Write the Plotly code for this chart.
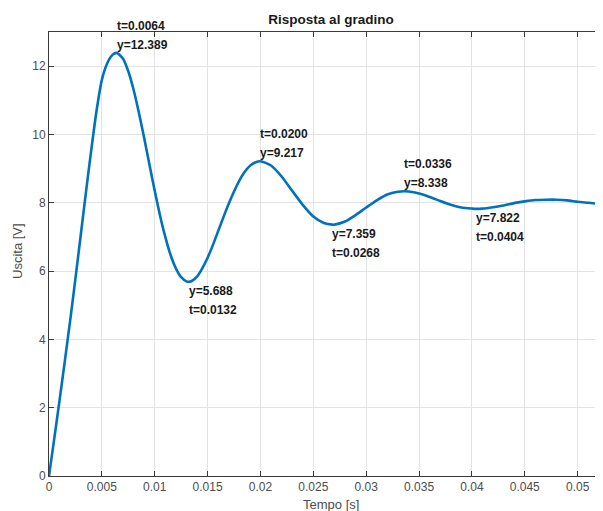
import plotly.graph_objects as go

# ---- data ----
time_s = [0.0, 0.0005, 0.001, 0.0015, 0.002, 0.0025, 0.003, 0.0035, 0.004, 0.0045,
          0.005, 0.0055, 0.006, 0.0064, 0.007, 0.0075, 0.008, 0.0085, 0.009, 0.0095,
          0.010, 0.0105, 0.011, 0.0115, 0.012, 0.0125, 0.013, 0.0132, 0.0135, 0.014,
          0.0145, 0.015, 0.0155, 0.016, 0.0165, 0.017, 0.0175, 0.018, 0.0185, 0.019,
          0.0195, 0.020, 0.021, 0.022, 0.023, 0.024, 0.025, 0.026, 0.0268, 0.027,
          0.028, 0.029, 0.030, 0.031, 0.032, 0.033, 0.0336, 0.034, 0.035, 0.036,
          0.037, 0.038, 0.039, 0.040, 0.0404, 0.041, 0.042, 0.043, 0.044, 0.045,
          0.046, 0.047, 0.048, 0.049, 0.050, 0.051, 0.052, 0.053]
output_v = [0.0, 1.10, 2.22, 3.37, 4.55, 5.78, 7.05, 8.32, 9.55, 10.70,
            11.60, 12.08, 12.33, 12.389, 12.22, 11.85, 11.31, 10.64, 9.90, 9.12,
            8.35, 7.63, 7.00, 6.47, 6.08, 5.82, 5.70, 5.688, 5.71, 5.84,
            6.08, 6.39, 6.76, 7.17, 7.58, 7.97, 8.33, 8.65, 8.90, 9.08,
            9.18, 9.217, 9.09, 8.77, 8.35, 7.94, 7.60, 7.41, 7.359, 7.36,
            7.45, 7.64, 7.86, 8.07, 8.24, 8.32, 8.338, 8.33, 8.27, 8.17,
            8.05, 7.94, 7.86, 7.83, 7.822, 7.83, 7.87, 7.92, 7.99, 8.04,
            8.08, 8.09, 8.09, 8.07, 8.03, 8.00, 7.97, 7.96]

tip_t = [0.0064, 0.0132, 0.0200, 0.0268, 0.0336, 0.0404]
tip_y = [12.389, 5.688, 9.217, 7.359, 8.338, 7.822]

x_tickvals = [0, 0.005, 0.01, 0.015, 0.02, 0.025, 0.03, 0.035, 0.04, 0.045, 0.05]
x_ticktext = ["0", "0.005", "0.01", "0.015", "0.02", "0.025", "0.03", "0.035", "0.04", "0.045", "0.05"]
y_tickvals = [0, 2, 4, 6, 8, 10, 12]

title_text = "Risposta al gradino"
x_label = "Tempo [s]"
y_label = "Uscita [V]"

# ---- figure ----
FONT = "Liberation Sans, Arial, Helvetica, sans-serif"
AXIS_COL = "#3a3a3a"
TICK_COL = "#4d4d4d"
GRID_COL = "#e3e3e3"
OFF = 8                      # the page body has an 8 px margin
W, H = 603 - OFF, 511 - OFF
L, R, T, B = 49 - OFF, 0, 32 - OFF, 35
PW, PH = W - L - R, H - T - B

fig = go.Figure()
fig.add_trace(go.Scatter(
    x=time_s, y=output_v, mode="lines",
    line=dict(color="#0072BD", width=2.6, shape="spline", smoothing=0.6),
    hoverinfo="skip", showlegend=False,
))

annotations = []
for i, (t, y) in enumerate(zip(tip_t, tip_y)):
    t_txt = "t=%.4f" % t
    y_txt = "y=%.3f" % y
    if i % 2 == 0:   # local maximum -> labels above
        lines = [(t_txt, 27), (y_txt, 8)]
    else:            # local minimum -> labels below
        lines = [(y_txt, -9), (t_txt, -28)]
    for txt, shift in lines:
        annotations.append(dict(
            x=t, y=y, xref="x", yref="y", text="<b>%s</b>" % txt,
            showarrow=False, xanchor="left", yanchor="middle",
            xshift=-2, yshift=shift,
            font=dict(family=FONT, size=12, color="#1a1a1a"),
        ))

# axis titles placed as paper annotations (page coords minus body margin)
annotations.append(dict(
    x=(331 - OFF - L) / PW, y=-(504 - OFF - (H - B)) / PH, xref="paper", yref="paper",
    text=x_label, showarrow=False, xanchor="center", yanchor="middle",
    font=dict(family=FONT, size=13, color=TICK_COL),
))
annotations.append(dict(
    x=(18 - OFF - L) / PW, y=(H - B - (251 - OFF)) / PH, xref="paper", yref="paper",
    text=y_label, showarrow=False, xanchor="center", yanchor="middle", textangle=-90,
    font=dict(family=FONT, size=13, color=TICK_COL),
))

fig.update_layout(
    width=W, height=H,
    margin=dict(l=L, r=R, t=T, b=B, autoexpand=False),
    paper_bgcolor="white", plot_bgcolor="white",
    showlegend=False,
    title=dict(text="<b>%s</b>" % title_text, x=(331 - OFF) / W, xref="container",
               xanchor="center", y=1 - (19.5 - OFF) / H, yref="container", yanchor="middle",
               font=dict(family=FONT, size=13.5, color="#1a1a1a")),
    annotations=annotations,
)

fig.update_xaxes(
    range=[0, 0.0524], tickvals=x_tickvals, ticktext=x_ticktext, automargin=False,
    showgrid=True, gridcolor=GRID_COL, gridwidth=1, zeroline=False,
    showline=True, linecolor=AXIS_COL, linewidth=1, mirror="ticks",
    ticks="inside", ticklen=5, tickcolor=AXIS_COL,
    tickfont=dict(family=FONT, size=12, color=TICK_COL),
)
fig.update_yaxes(
    range=[0, 13], tickvals=y_tickvals, automargin=False,
    showgrid=True, gridcolor=GRID_COL, gridwidth=1, zeroline=False,
    showline=True, linecolor=AXIS_COL, linewidth=1, mirror=False,
    ticks="inside", ticklen=5, tickcolor=AXIS_COL,
    tickfont=dict(family=FONT, size=12, color=TICK_COL),
)

fig.write_html("out.html")
